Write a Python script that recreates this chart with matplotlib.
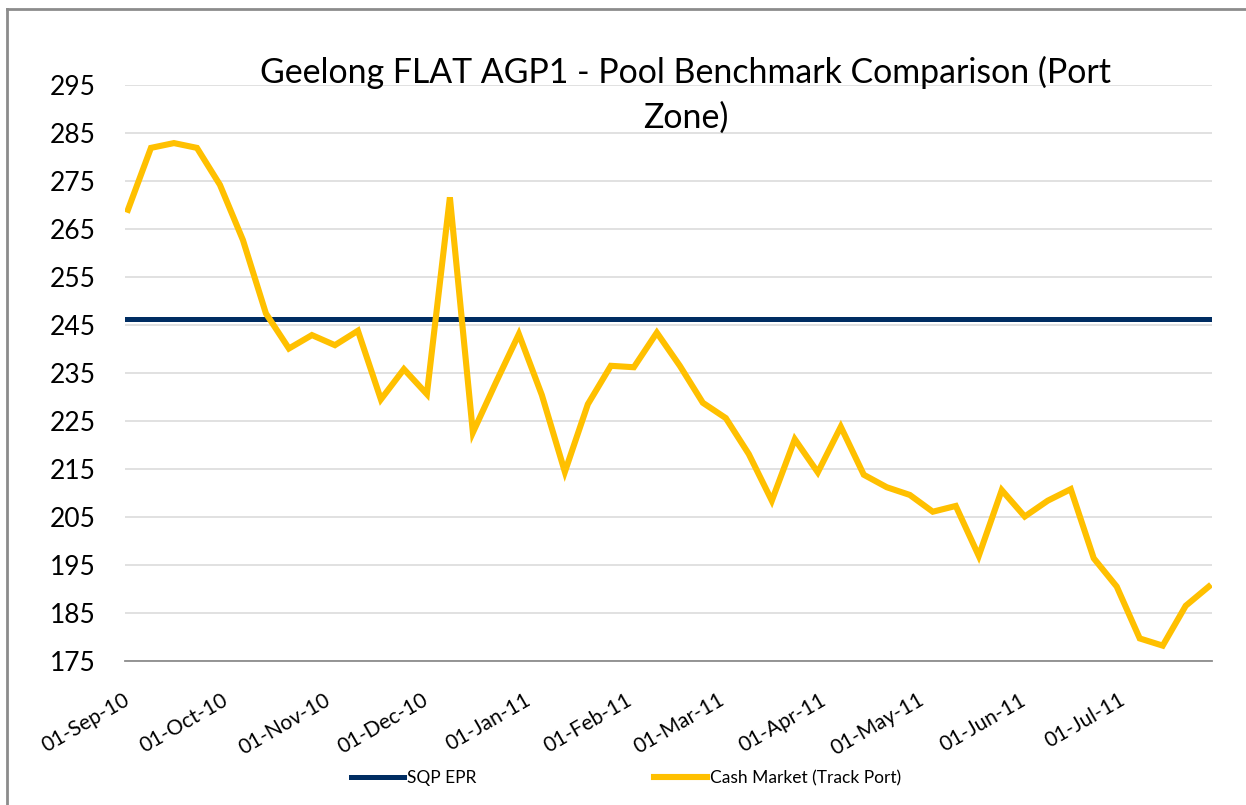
import matplotlib
matplotlib.use('Agg')
import matplotlib.pyplot as plt
from matplotlib.lines import Line2D
import pandas as pd

plt.rcParams['font.family'] = ['Lato', 'DejaVu Sans']

# ---- data ----
title_line1 = "Geelong FLAT AGP1 - Pool Benchmark Comparison (Port"
title_line2 = "Zone)"
series_names = ["SQP EPR", "Cash Market (Track Port)"]
week_dates = pd.date_range("2010-09-01", periods=48, freq="7D")
sqp_epr = 246.2
cash_market = [269.0, 281.9, 282.9, 281.9, 274.2, 262.7, 247.4, 240.1, 242.9, 240.8,
               243.8, 229.5, 235.8, 230.6, 271.6, 222.6, 233.0, 243.1, 230.4, 214.4,
               228.5, 236.5, 236.2, 243.4, 236.5, 228.8, 225.6, 218.1, 208.4, 221.2,
               214.3, 223.8, 213.8, 211.2, 209.6, 206.1, 207.3, 196.9, 210.6, 205.1,
               208.4, 210.8, 196.4, 190.5, 179.7, 178.2, 186.5, 190.5]
y_ticks = list(range(175, 296, 10))
x_tick_dates = pd.date_range("2010-09-01", "2011-07-01", freq="MS")
x_tick_labels = [d.strftime('%d-%b-%y') for d in x_tick_dates]

# ---- figure ----
W, H = 1246, 805
fig = plt.figure(figsize=(W / 100, H / 100), dpi=100)
fig.patch.set_facecolor('white')
L, R, T, B = 125, 1212, 85, 661
ax = fig.add_axes([L / W, 1 - B / H, (R - L) / W, (B - T) / H])

navy = '#002D62'
gold = '#FFC000'

ax.axhline(sqp_epr, color=navy, lw=3.6, label=series_names[0], zorder=3)
ax.plot(week_dates, cash_market, color=gold, lw=4.4, label=series_names[1],
        solid_joinstyle='miter', zorder=4)

ax.set_ylim(175, 295)
ax.set_yticks(y_ticks)
ax.set_xlim(week_dates[0] - pd.Timedelta(days=0.9), week_dates[0] + pd.Timedelta(days=330))
ax.set_xticks(x_tick_dates)
ax.set_xticklabels(x_tick_labels, rotation=30, ha='right', va='center',
                   rotation_mode='anchor', fontsize=15)

ax.grid(axis='y', color='#D9D9D9', lw=1.1)
ax.set_axisbelow(True)
for s in ['top', 'right', 'left']:
    ax.spines[s].set_visible(False)
ax.spines['bottom'].set_color('#8C8C8C')
ax.spines['bottom'].set_linewidth(1.3)

ax.tick_params(axis='y', length=0, labelsize=19, pad=21)
ax.tick_params(axis='x', length=0, pad=27)

# title (auto-fit width of first line)
t1 = fig.text(686 / W, 1 - 72 / H, title_line1, ha='center', va='center', fontsize=22)
fig.canvas.draw()
w = t1.get_window_extent().width
t1.set_fontsize(22 * 848 / w)
fs = t1.get_fontsize()
fig.text(686 / W, 1 - 118 / H, title_line2, ha='center', va='center', fontsize=fs)

# legend
leg = fig.legend(loc='center', bbox_to_anchor=(626 / W, 1 - 778 / H), ncol=2,
                 frameon=False, fontsize=12.5, handlelength=3.05, handletextpad=0.2,
                 columnspacing=10.2)

# outer chart frame (left and top edges)
fig.add_artist(Line2D([7 / W, 7 / W], [0, 1 - 9 / H], transform=fig.transFigure,
                      color='#8C8C8C', lw=2))
fig.add_artist(Line2D([7 / W, 1], [1 - 9 / H, 1 - 9 / H], transform=fig.transFigure,
                      color='#8C8C8C', lw=2))

fig.savefig('out.png', dpi=100, facecolor='white')
